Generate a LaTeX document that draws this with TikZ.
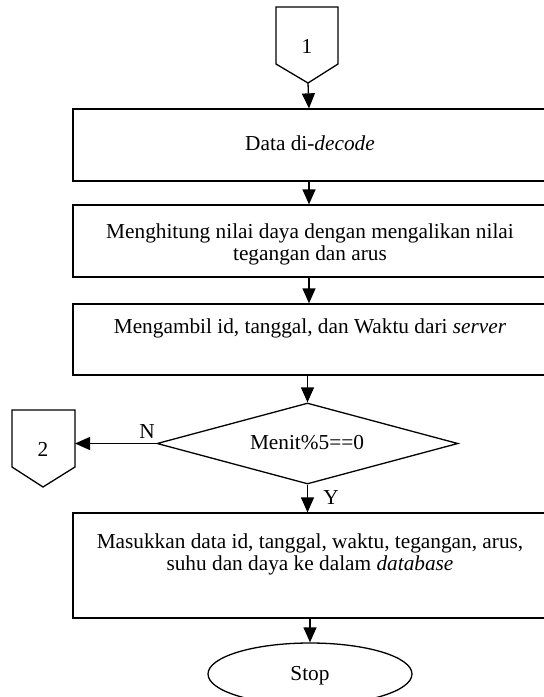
\documentclass[tikz,border=0pt]{standalone}
\usepackage{fontspec}
\setmainfont{Liberation Serif}
\usetikzlibrary{shapes.geometric,arrows.meta}
\begin{document}
\begin{tikzpicture}[x=1pt,y=-1pt,
  line width=1.3pt,
  font=\fontsize{21.3}{22}\selectfont,
  box/.style={draw,rectangle,inner sep=0pt,minimum width=472pt},
  txt/.style={inner sep=0pt,align=center},
  arr/.style={-{Triangle[length=15pt,width=13pt]}},
  dec/.style={draw,diamond,inner sep=0pt,aspect=3.7,minimum width=301pt,minimum height=81pt},
  term/.style={draw,ellipse,inner sep=0pt,minimum width=204pt,minimum height=62pt}]
\useasboundingbox (0,0) rectangle (544,697);
% off-page connector 1
\draw (276,7) -- (338,7) -- (338,64) -- (308,83) -- (276,64) -- cycle;
\coordinate (c1) at (308,83);
\node[txt] (t1) at (307,46) {1};
% boxes
\node[box,minimum height=72pt] (b1) at (309,145) {};
\node[txt] (l1) at (310,143) {Data di-\textit{decode}};
\node[box,minimum height=72pt] (b2) at (309,241) {};
\node[txt] (l2) at (310,244) {Menghitung nilai daya dengan mengalikan nilai\\tegangan dan arus};
\node[box,minimum height=71pt] (b3) at (309,339.5) {};
\node[txt] (l3) at (310,328) {Mengambil id, tanggal, dan Waktu dari \textit{server}};
\node[dec] (d) at (307.5,443.5) {};
\node[txt] (ld) at (307,443) {Menit\%5==0};
% off-page connector 2
\draw (12,410) -- (75,410) -- (75,467) -- (43,487) -- (12,467) -- cycle;
\coordinate (c2) at (75,443.5);
\node[txt] (t2) at (43,449) {2};
\node[box,minimum height=105pt] (b4) at (309,565.5) {};
\node[txt] (l4) at (310,554) {Masukkan data id, tanggal, waktu, tegangan, arus,\\suhu dan daya ke dalam \textit{database}};
\node[term] (s) at (310,674) {};
\node[txt] (ls) at (310,676) {Stop};
% connectors
\draw[arr] (c1) -- (b1.north);
\draw[arr] (b1.south) -- (b2.north);
\draw[arr] (b2.south) -- (b3.north);
\draw[arr] (b3.south -| d.north) -- (d.north);
\draw[arr] (d.south) -- (b4.north -| d.south);
\draw[arr] (b4.south -| s.north) -- (s.north);
\draw[arr] (d.west) -- (c2);
\node[txt] (N) at (147,432) {N};
\node[txt] (Y) at (331,498) {Y};
\end{tikzpicture}
\end{document}
